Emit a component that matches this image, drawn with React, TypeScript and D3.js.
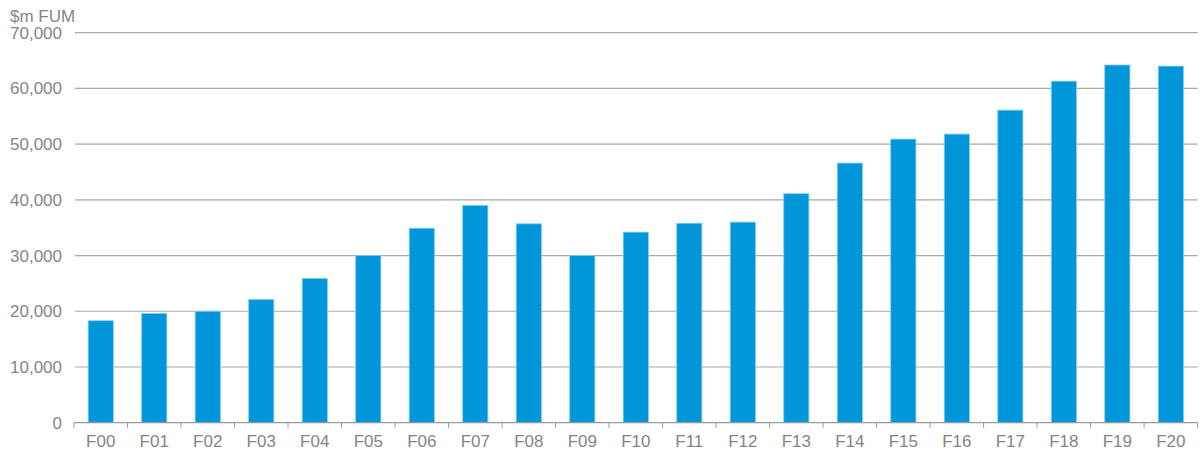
import React from "react";
import * as d3 from "d3";

const categories = ["F00","F01","F02","F03","F04","F05","F06","F07","F08","F09","F10","F11","F12","F13","F14","F15","F16","F17","F18","F19","F20"];
const fumValues = [18300,19600,20000,22100,25900,30000,34900,39000,35700,30000,34200,35800,36000,41100,46600,50900,51800,56100,61300,64200,64000];
const yTicks = [0,10000,20000,30000,40000,50000,60000,70000];
const yAxisTitle = "$m FUM";

const W = 1200, H = 476;
const left = 74, right = 1197.6, top = 32.7, bottom = 422.7;

export default function App() {
  const x = d3.scaleBand<string>().domain(categories).range([left, right]).paddingInner(0.53).paddingOuter(0.265);
  const band = d3.scaleBand<string>().domain(categories).range([left, right]).padding(0);
  const y = d3.scaleLinear().domain([0, 70000]).range([bottom, top]);
  const fmt = d3.format(",");
  const font = "'Liberation Sans', Arial, sans-serif";
  const textColor = "#858585";
  const edges = categories.map((c) => band(c) as number).concat([right]);
  return (
    <svg width={W} height={H} style={{ position: "absolute", left: 0, top: 0 }} fontFamily={font}>
      <text x={10} y={22} fontSize={17} fill={textColor}>{yAxisTitle}</text>
      {yTicks.map((t) => (
        <g key={t}>
          {t > 0 && <line x1={75} x2={right} y1={y(t)} y2={y(t)} stroke="#a8a8a8" strokeWidth={1.2} />}
          <text x={62} y={y(t) + 6} fontSize={17} fill={textColor} textAnchor="end">{fmt(t)}</text>
        </g>
      ))}
      {categories.map((c, i) => (
        <rect key={c} x={x(c)} y={y(fumValues[i])} width={x.bandwidth()} height={bottom - y(fumValues[i])}
          fill="#0096d9" stroke="#7fcdf0" strokeWidth={0.8} />
      ))}
      <line x1={left} x2={right} y1={bottom} y2={bottom} stroke="#9a9a9a" strokeWidth={1.2} />
      {edges.map((e, i) => (
        <line key={i} x1={e} x2={e} y1={bottom} y2={bottom + 5} stroke="#9a9a9a" strokeWidth={1} />
      ))}
      {categories.map((c) => (
        <text key={c} x={(band(c) as number) + band.bandwidth() / 2} y={447} fontSize={17} fill={textColor} textAnchor="middle">{c}</text>
      ))}
    </svg>
  );
}
